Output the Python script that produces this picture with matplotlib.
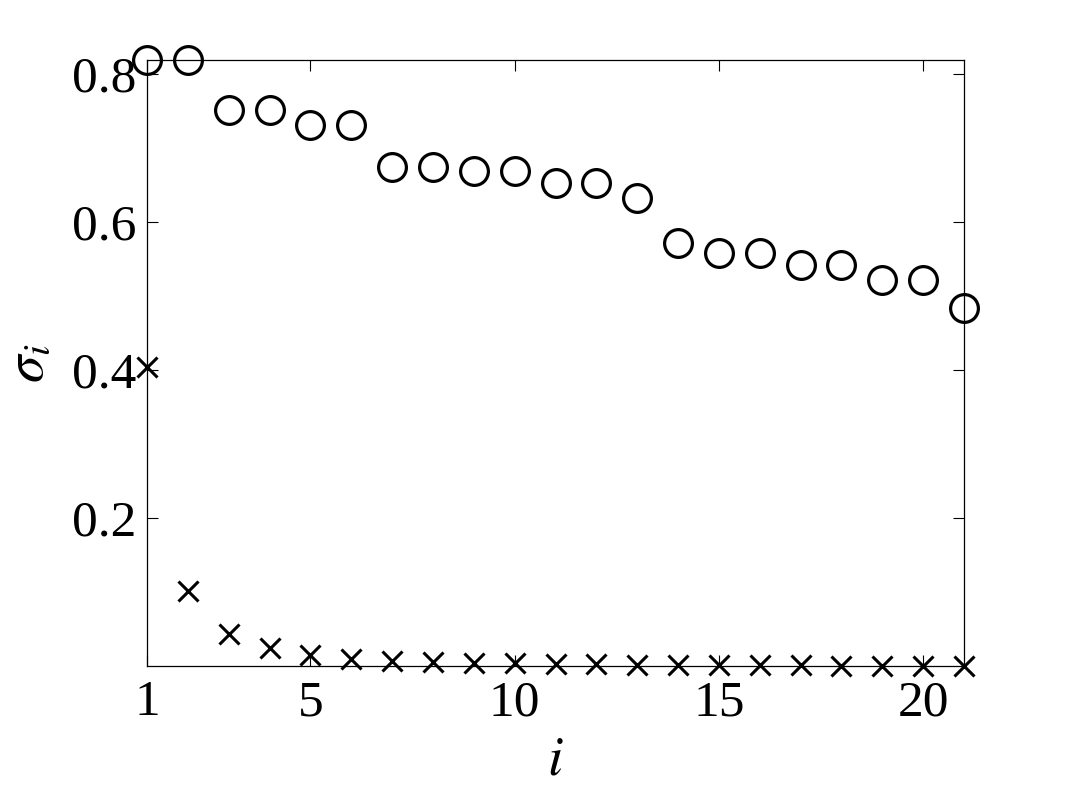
import numpy as np
import matplotlib.pyplot as plt

plt.rcParams['font.family'] = 'Liberation Serif'
plt.rcParams['mathtext.fontset'] = 'stix'

# data
idx = np.arange(1, 22)
sigma_circ = [0.819, 0.819, 0.751, 0.751, 0.731, 0.731, 0.674, 0.674, 0.669, 0.669,
              0.653, 0.653, 0.632, 0.572, 0.558, 0.558, 0.542, 0.542, 0.522, 0.522, 0.484]
sigma_cross = [0.404, 0.101, 0.043, 0.024, 0.015, 0.0095, 0.007, 0.005, 0.004, 0.0035,
               0.003, 0.0025, 0.002, 0.0015, 0.0012, 0.001, 0.0008, 0.0006, 0.0005, 0.0003, 0.0002]

fig = plt.figure(figsize=(10.67, 8), dpi=100)
ax = fig.add_axes([0.1378, 0.1675, 0.9035 - 0.1378, 0.925 - 0.1675])

ax.plot(idx, sigma_circ, 'o', mfc='none', mec='k', ms=20, mew=2.3, clip_on=False)
ax.plot(idx, sigma_cross, 'x', color='k', ms=14, mew=2.2, clip_on=False)

ax.set_xlim(1, 21)
ax.set_ylim(0, 0.819)
ax.set_xticks([1, 5, 10, 15, 20])
ax.set_yticks([0.2, 0.4, 0.6, 0.8])
ax.set_yticklabels(['0.2', '0.4', '0.6', '0.8'])
ax.tick_params(direction='in', length=8, width=0.8, top=True, right=True,
               labelsize=37)
ax.tick_params(axis='x', pad=10)
ax.tick_params(axis='y', pad=8)
for s in ax.spines.values():
    s.set_linewidth(0.9)

ax.set_xlabel('$i$', fontsize=40, labelpad=6)
ax.set_ylabel(r'$\sigma_i$', fontsize=40, labelpad=12)

fig.savefig('out.png', dpi=100)
